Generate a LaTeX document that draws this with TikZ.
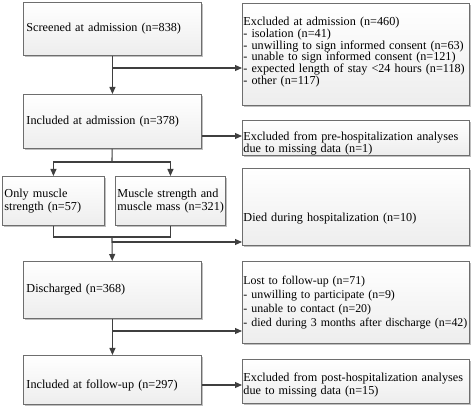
\documentclass[tikz,border=0pt]{standalone}
\usepackage{fontspec}
\setmainfont{Liberation Serif}
\usetikzlibrary{arrows.meta,shadows}
\definecolor{boxgray}{HTML}{6E6E6E}
\definecolor{arrowgray}{HTML}{3F3F3F}
\tikzset{
 mybox/.style={draw=boxgray,line width=0.9pt,top color=white,bottom color=gray!14,
   drop shadow={shadow xshift=1.6pt,shadow yshift=-1.6pt,fill=gray!50,opacity=1},
   anchor=north west,inner ysep=0pt,align=left,font=\fontsize{12.2}{13}\selectfont},
 leftbox/.style={mybox,inner xsep=3pt},
 rightbox/.style={mybox,inner xsep=1pt,text width=225pt,minimum width=227pt},
 myarrow/.style={draw=arrowgray,line width=1.1pt,-{Triangle[length=7pt,width=6pt]}},
 myline/.style={draw=arrowgray,line width=1.1pt}
}

\begin{document}
\begin{tikzpicture}[x=1pt,y=-1pt]
 \useasboundingbox (0,0) rectangle (472,417);
 % left column
 \node[leftbox,text width=172pt,minimum height=53pt] (screen) at (23,2) {Screened at admission (n=838)};
 \node[leftbox,text width=172pt,minimum height=54pt] (incl) at (23,94) {Included at admission (n=378)};
 \node[mybox,inner xsep=2pt,text width=98pt,minimum height=49pt] (only) at (2,176) {Only muscle\\strength (n=57)};
 \node[mybox,inner xsep=2pt,text width=106pt,minimum height=49pt] (both) at (115,176) {Muscle strength and\\\mbox{muscle mass (n=321)}};
 \node[leftbox,text width=172pt,minimum height=57pt] (disch) at (23,261) {Discharged (n=368)};
 \node[leftbox,text width=172pt,minimum height=49pt,text height=19pt,text depth=2pt] (fup) at (23,355) {Included at follow-up (n=297)};
 % right column
 \node[rightbox,minimum height=102pt,text height=9pt,text depth=67pt,font=\fontsize{12.2}{11.8}\selectfont] (exadm) at (242,3)
   {Excluded at admission (n=460)\\- isolation (n=41)\\- unwilling to sign informed consent (n=63)\\- unable to sign informed consent (n=121)\\- expected length of stay <24 hours (n=118)\\- other (n=117)};
 \node[rightbox,minimum height=35pt,text height=19.5pt,font=\fontsize{12.2}{11.7}\selectfont] (expre) at (242,120)
   {Excluded from pre-hospitalization analyses\\due to missing data (n=1)};
 \node[rightbox,minimum height=77pt,text height=31pt,text depth=2pt] (died) at (242,168) {Died during hospitalization (n=10)};
 \node[rightbox,minimum height=82pt,font=\fontsize{11.9}{14}\selectfont] (lost) at (242,261)
   {Lost to follow-up (n=71)\\- unwilling to participate (n=9)\\- unable to contact (n=20)\\\mbox{- died during 3 months after discharge (n=42)}};
 \node[rightbox,minimum height=44pt,text height=16pt] (expost) at (242,359)
   {Excluded from post-hospitalization analyses\\due to missing data (n=15)};
 % branch points
 \coordinate (b1) at (112,68);
 \coordinate (b2) at (112,162);
 \coordinate (b3) at (112,237);
 \coordinate (b4) at (112,242);
 \coordinate (b5) at (112,331);
 % connectors
 \draw[myarrow] (screen) -- (incl);
 \draw[myarrow] (b1) -- (b1 -| exadm.west);
 \draw[myarrow] (incl.east |- 0,136) -- (expre.west |- 0,136);
 \draw[myline] (incl) -- (b2);
 \draw[myarrow] (b2) -| (only);
 \draw[myarrow] (b2) -| (both);
 \draw[myline] (only) |- (b3) -| (both);
 \draw[myarrow] (b3) -- (disch);
 \draw[myarrow] (b4) -- (b4 -| died.west);
 \draw[myarrow] (disch) -- (fup);
 \draw[myarrow] (b5) -- (b5 -| lost.west);
 \draw[myarrow] (fup.east |- 0,385) -- (expost.west |- 0,385);
\end{tikzpicture}
\end{document}
